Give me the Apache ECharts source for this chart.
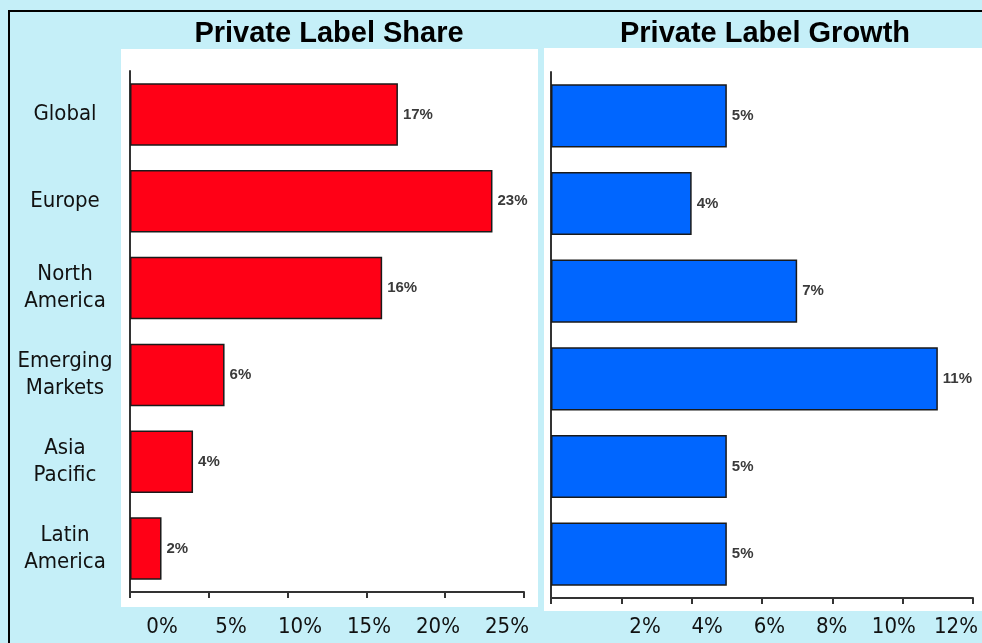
<!DOCTYPE html>
<html>
<head>
<meta charset="utf-8">
<script src="https://cdn.jsdelivr.net/npm/echarts@6/dist/echarts.min.js"></script>
<style>
  html, body { margin: 0; padding: 0; background: #c5eff8; }
  #chart { width: 982px; height: 643px; }
</style>
</head>
<body>
<div id="chart"></div>
<script>
// ---- data ----
const categories = ['Global', 'Europe', 'North\nAmerica', 'Emerging\nMarkets', 'Asia\nPacific', 'Latin\nAmerica'];
const shareValues = [17, 23, 16, 6, 4, 2];
const growthValues = [5, 4, 7, 11, 5, 5];
const shareTicks = ['0%', '5%', '10%', '15%', '20%', '25%'];
const growthTicks = ['2%', '4%', '6%', '8%', '10%', '12%'];
const titles = ['Private Label Share', 'Private Label Growth'];

const chart = echarts.init(document.getElementById('chart'));
const narrow = '"Liberation Sans Narrow", "DejaVu Sans Condensed", "Liberation Sans", sans-serif';
const axisLineStyle = { color: '#333', width: 2 };

function barSeries(data, color, xi, yi) {
  return {
    type: 'bar', xAxisIndex: xi, yAxisIndex: yi, data: data,
    barCategoryGap: '28%',
    itemStyle: { color: color, borderColor: '#1a1a1a', borderWidth: 1.5 },
    label: {
      show: true, position: 'right', distance: 5,
      formatter: p => p.value + '%',
      fontFamily: '"Liberation Sans", Arial, sans-serif', fontWeight: 'bold',
      fontSize: 15, color: '#3a3a3a'
    },
    silent: true, animation: false
  };
}

const option = {
  backgroundColor: '#c5eff8',
  animation: false,
  title: [
    { text: titles[0], left: 329, top: 19, textAlign: 'center', padding: 0,
      textStyle: { fontFamily: '"Liberation Sans", Arial, sans-serif', fontWeight: 'bold', fontSize: 29, color: '#000' } },
    { text: titles[1], left: 765, top: 19, textAlign: 'center', padding: 0,
      textStyle: { fontFamily: '"Liberation Sans", Arial, sans-serif', fontWeight: 'bold', fontSize: 29, color: '#000' } }
  ],
  graphic: [
    { type: 'rect', z: -10, shape: { x: 9, y: 11, width: 1200, height: 1000 },
      style: { fill: 'none', stroke: '#000', lineWidth: 2 } },
    { type: 'rect', z: -9, shape: { x: 121, y: 49, width: 417, height: 558 },
      style: { fill: '#ffffff' } },
    { type: 'rect', z: -9, shape: { x: 544, y: 48, width: 450, height: 563 },
      style: { fill: '#ffffff' } }
  ],
  grid: [
    { left: 130, top: 71, width: 394, height: 521 },
    { left: 551, top: 72, width: 422, height: 526 },
    { left: 162, top: 560, width: 345, height: 52 },
    { left: 645, top: 560, width: 311, height: 52 }
  ],
  xAxis: [
    { type: 'value', gridIndex: 0, min: 0, max: 25, interval: 5,
      axisLine: { show: true, lineStyle: axisLineStyle },
      axisTick: { show: true, length: 6, lineStyle: axisLineStyle },
      axisLabel: { show: false }, splitLine: { show: false } },
    { type: 'value', gridIndex: 1, min: 0, max: 12, interval: 2,
      axisLine: { show: true, lineStyle: axisLineStyle },
      axisTick: { show: true, length: 6, lineStyle: axisLineStyle },
      axisLabel: { show: false }, splitLine: { show: false } },
    { type: 'value', gridIndex: 2, min: 0, max: 25, interval: 5,
      axisLine: { show: false }, axisTick: { show: false }, splitLine: { show: false },
      axisLabel: { margin: 4, fontFamily: narrow, fontSize: 22, color: '#111',
        formatter: v => shareTicks[Math.round(v / 5)] } },
    { type: 'value', gridIndex: 3, min: 2, max: 12, interval: 2,
      axisLine: { show: false }, axisTick: { show: false }, splitLine: { show: false },
      axisLabel: { margin: 4, fontFamily: narrow, fontSize: 22, color: '#111',
        formatter: v => growthTicks[Math.round(v / 2) - 1] } }
  ],
  yAxis: [
    { type: 'category', gridIndex: 0, data: categories, inverse: true,
      axisLine: { show: true, lineStyle: axisLineStyle }, axisTick: { show: false },
      axisLabel: { margin: 65, align: 'center', fontFamily: narrow, fontSize: 22, lineHeight: 27, color: '#111' } },
    { type: 'category', gridIndex: 1, data: categories, inverse: true,
      axisLine: { show: true, lineStyle: axisLineStyle }, axisTick: { show: false },
      axisLabel: { show: false } },
    { type: 'value', gridIndex: 2, show: false },
    { type: 'value', gridIndex: 3, show: false }
  ],
  series: [
    barSeries(shareValues, '#ff0016', 0, 0),
    barSeries(growthValues, '#0066ff', 1, 1)
  ]
};
chart.setOption(option);
</script>
</body>
</html>
